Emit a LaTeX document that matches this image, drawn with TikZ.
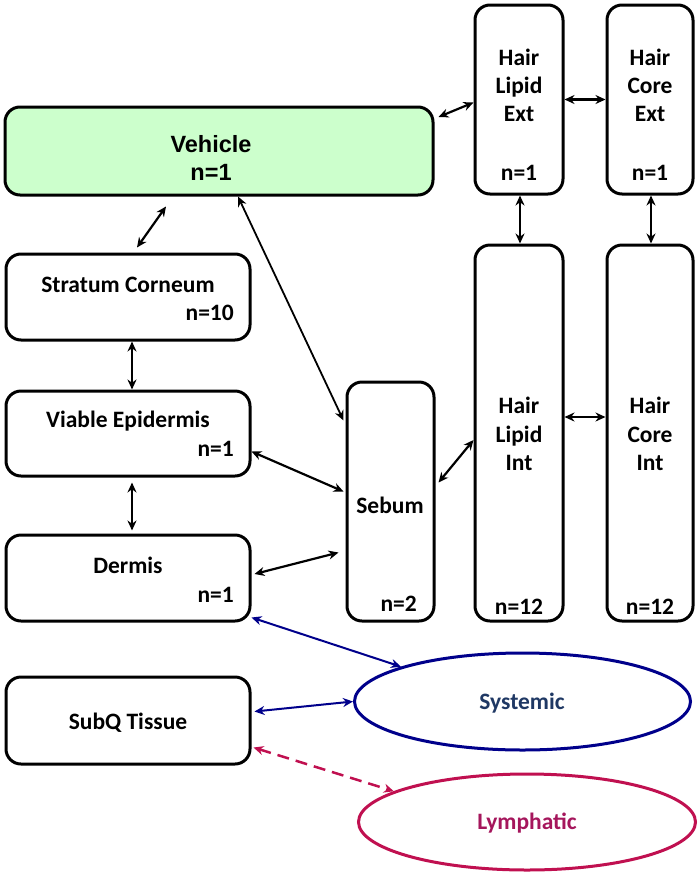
\documentclass[tikz,border=0pt]{standalone}
\usepackage{fontspec}
\setmainfont{Carlito}
\newfontfamily\vehfont{Liberation Sans}
\usetikzlibrary{shapes.geometric,arrows.meta}
\definecolor{vehgreen}{RGB}{204,255,204}
\definecolor{sysblue}{RGB}{0,0,139}
\definecolor{systext}{RGB}{31,56,100}
\definecolor{lymred}{RGB}{192,16,80}
\definecolor{lymtext}{RGB}{165,22,92}

\begin{document}
\begin{tikzpicture}[x=1pt,y=-1pt,
		box/.style={draw,line width=3pt,rounded corners=15pt,inner sep=0pt},
		txt/.style={anchor=base,inner sep=0pt,font=\fontsize{23.5}{28}\selectfont\bfseries},
		link/.style={{Stealth[length=10pt,width=9pt]}-{Stealth[length=10pt,width=9pt]},line width=2.2pt},
		bluelink/.style={link,draw=sysblue,line width=2pt},
		pool/.style={draw,ellipse,line width=3pt,inner sep=0pt}]
		\useasboundingbox (0,0) rectangle (700,876);

		% compartments
		\node[box,fill=vehgreen,minimum width=428pt,minimum height=88pt] (veh) at (219,151) {};
		\node[box,minimum width=244pt,minimum height=86pt] (sc) at (128,297) {};
		\node[box,minimum width=244pt,minimum height=85pt] (ve) at (128,433.5) {};
		\node[box,minimum width=244pt,minimum height=86pt] (de) at (128,578) {};
		\node[box,minimum width=244pt,minimum height=87pt] (sq) at (128,720.5) {};
		\node[box,minimum width=87pt,minimum height=239pt] (seb) at (390.5,501.5) {};
		\node[box,minimum width=88pt,minimum height=189pt] (lext) at (519,99.5) {};
		\node[box,minimum width=86pt,minimum height=189pt] (cext) at (650,99.5) {};
		\node[box,minimum width=88pt,minimum height=376pt] (lint) at (519,433) {};
		\node[box,minimum width=86pt,minimum height=376pt] (cint) at (650,433) {};
		\node[pool,draw=sysblue,minimum width=336pt,minimum height=97pt] (sys) at (522.5,701.5) {};
		\node[pool,draw=lymred,minimum width=337pt,minimum height=96pt] (lym) at (527,822) {};

		% labels
		\node[txt,font=\vehfont\fontsize{23.5}{28}\selectfont\bfseries] (veh-name) at (211,152) {Vehicle};
		\node[txt,font=\vehfont\fontsize{23.5}{28}\selectfont\bfseries] (veh-n) at (211,180) {n=1};
		\node[txt] (sc-name) at (128,292) {Stratum Corneum};
		\node[txt,anchor=base east] (sc-n) at (234,320) {n=10};
		\node[txt] (ve-name) at (128,427) {Viable Epidermis};
		\node[txt,anchor=base east] (ve-n) at (234,456) {n=1};
		\node[txt] (de-name) at (128,573) {Dermis};
		\node[txt,anchor=base east] (de-n) at (234,602) {n=1};
		\node[txt] (sq-name) at (128,729) {SubQ Tissue};
		\node[txt] (seb-name) at (390,513) {Sebum};
		\node[txt,anchor=base east] (seb-n) at (417,611) {n=2};
		\foreach \col/\x/\kind in {l/519/Lipid, c/650/Core} {
			\foreach \w/\y [count=\i] in {Hair/65, \kind/93, Ext/121.5}
				\node[txt] (\col ext-\i) at (\x,\y) {\w};
			\node[txt] (\col ext-n) at (\x,180) {n=1};
			\foreach \w/\y [count=\i] in {Hair/413, \kind/442, Int/470}
				\node[txt] (\col int-\i) at (\x,\y) {\w};
			\node[txt] (\col int-n) at (\x,614) {n=12};
		}
		\node[txt,text=systext] (sys-name) at (522,709) {Systemic};
		\node[txt,text=lymtext] (lym-name) at (527,829) {Lymphatic};

		% exchanges
		\draw[link] ([xshift=-53pt,yshift=-10pt]veh.south) -- ([xshift=9pt,yshift=5pt]sc.north);
		\draw[link,line width=1.8pt] ([xshift=19pt]veh.south) -- ([yshift=81pt,xshift=-2pt]seb.west);
		\draw[link] ([xshift=4pt]sc.south) -- ([xshift=4pt]ve.north);
		\draw[link] ([yshift=-18pt]ve.east) -- ([yshift=10pt,xshift=-2pt]seb.west);
		\draw[link] ([xshift=4pt,yshift=-5pt]ve.south) -- ([xshift=4pt,yshift=3pt]de.north);
		\draw[link] ([yshift=4pt,xshift=3pt]de.east) -- ([xshift=-7pt,yshift=-51pt]seb.west);
		\draw[link] ([xshift=3pt,yshift=19pt]seb.east) -- ([yshift=-7pt]lint.west);
		\draw[link] ([yshift=16pt]lint.east) -- ([yshift=16pt]cint.west);
		\draw[link] ([xshift=1pt]lext.south) -- ([xshift=1pt]lint.north);
		\draw[link] ([xshift=1pt]cext.south) -- ([xshift=1pt]cint.north);
		\draw[link] (lext.east) -- (cext.west);
		\draw[link] ([xshift=4pt,yshift=34pt]veh.east) -- ([yshift=-3pt]lext.west);
		\draw[bluelink] ([yshift=5pt]de.south east) -- (sys.164);
		\draw[bluelink] ([xshift=3pt,yshift=9pt]sq.east) -- (sys.west);
		\draw[link,draw=lymred,line width=2.5pt,dash pattern=on 12pt off 7pt] ([xshift=2pt,yshift=-27pt]sq.east) -- (lym.167);
	\end{tikzpicture}
\end{document}
